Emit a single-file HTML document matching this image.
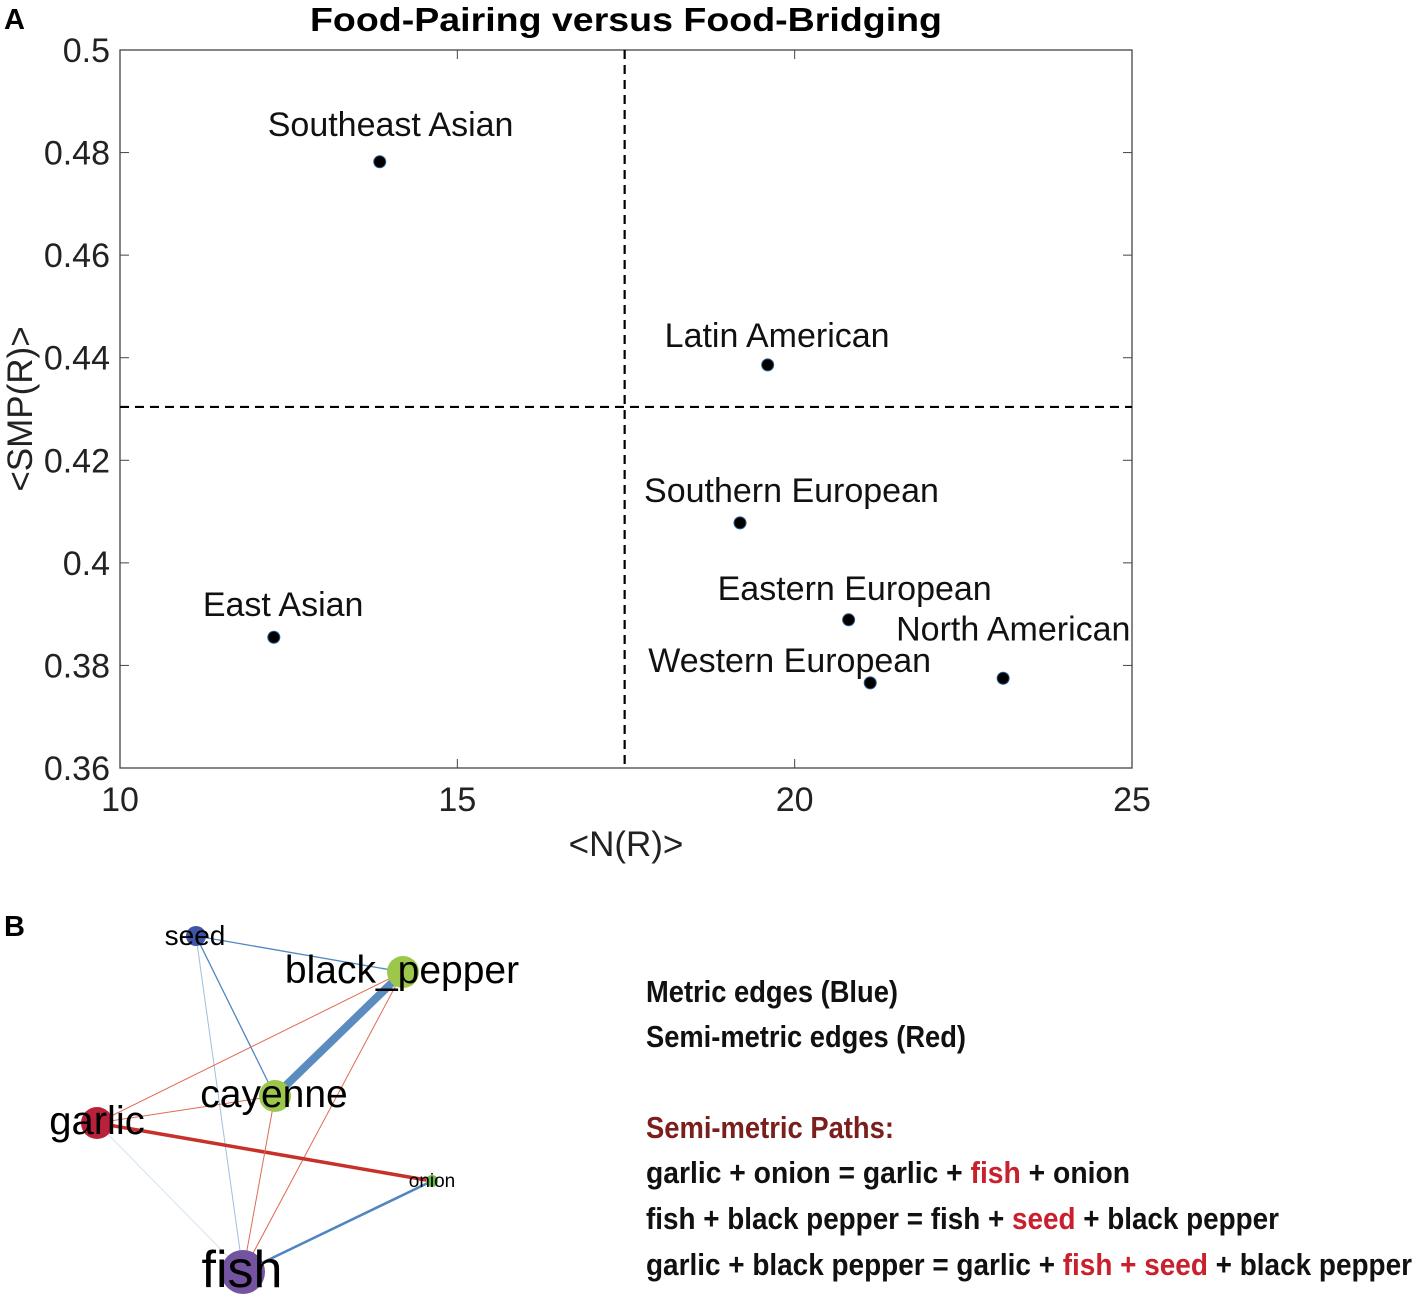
<!DOCTYPE html>
<html><head><meta charset="utf-8"><style>
body{margin:0;background:#fff;}
svg{display:block;font-family:"Liberation Sans",sans-serif;}
.nar{font-family:"Liberation Sans Narrow","Liberation Sans",sans-serif;font-weight:bold;}
</style></head><body>
<svg id="chart" width="1417" height="1303" viewBox="0 0 1417 1303">
<text x="4" y="29" font-size="29" font-weight="bold">A</text>
<text x="310" y="31" font-size="33" font-weight="bold" textLength="632" lengthAdjust="spacingAndGlyphs">Food-Pairing versus Food-Bridging</text>
<rect x="120" y="50" width="1012" height="718" fill="none" stroke="#444" stroke-width="1.3"/>
<g id="ticks"></g>
<line id="vline" stroke="#000" stroke-width="2.2" stroke-dasharray="9,6"/>
<line id="hline" stroke="#000" stroke-width="2.2" stroke-dasharray="9,6"/>
<g id="pts"></g>
<text x="626" y="856" font-size="35" text-anchor="middle" fill="#222">&lt;N(R)&gt;</text>
<text transform="translate(32,409) rotate(-90)" font-size="35" text-anchor="middle" fill="#222">&lt;SMP(R)&gt;</text>

<text x="4" y="936" font-size="29" font-weight="bold">B</text>
<g>
<line x1="196" y1="936" x2="403" y2="972" stroke="#4f86c0" stroke-width="1.3"/>
<line x1="196" y1="936" x2="275" y2="1096" stroke="#4f86c0" stroke-width="1.3"/>
<line x1="196" y1="936" x2="243" y2="1272" stroke="#9ec0e0" stroke-width="1"/>
<line x1="403" y1="972" x2="275" y2="1096" stroke="#5a8cc0" stroke-width="8"/>
<line x1="403" y1="972" x2="97" y2="1123" stroke="#e06a55" stroke-width="1"/>
<line x1="403" y1="972" x2="243" y2="1272" stroke="#e06a55" stroke-width="1"/>
<line x1="97" y1="1123" x2="275" y2="1096" stroke="#e06a55" stroke-width="1"/>
<line x1="97" y1="1123" x2="432" y2="1181" stroke="#c8302a" stroke-width="3.5"/>
<line x1="97" y1="1123" x2="243" y2="1272" stroke="#d5e3f0" stroke-width="1"/>
<line x1="275" y1="1096" x2="243" y2="1272" stroke="#e06a55" stroke-width="1"/>
<line x1="432" y1="1181" x2="243" y2="1272" stroke="#4f86c0" stroke-width="2.5"/>
</g>
<g>
<circle cx="196" cy="936" r="10" fill="#3f56a8"/>
<circle cx="403" cy="972" r="16" fill="#9cc74a"/>
<circle cx="275" cy="1096" r="16" fill="#9cc74a"/>
<circle cx="97" cy="1123" r="16" fill="#b8203c"/>
<circle cx="432" cy="1181" r="6" fill="#6cb84a"/>
<circle cx="243" cy="1272" r="22" fill="#7454a0"/>
</g>
<g fill="#000">
<text x="195" y="945" font-size="28" text-anchor="middle">seed</text>
<text x="402" y="983" font-size="39" text-anchor="middle">black_pepper</text>
<text x="274" y="1107" font-size="39" text-anchor="middle">cayenne</text>
<text x="97" y="1134" font-size="40" text-anchor="middle">garlic</text>
<text x="432" y="1187" font-size="19" text-anchor="middle">onion</text>
<text x="242" y="1287" font-size="52" text-anchor="middle">fish</text>
</g>
<g class="nar" font-size="31" fill="#111">
<text x="646" y="1002" textLength="252" lengthAdjust="spacingAndGlyphs">Metric edges (Blue)</text>
<text x="646" y="1047" textLength="320" lengthAdjust="spacingAndGlyphs">Semi-metric edges (Red)</text>
<text x="646" y="1138" fill="#7a1e1e" textLength="248" lengthAdjust="spacingAndGlyphs">Semi-metric Paths:</text>
<text x="646" y="1183" textLength="484" lengthAdjust="spacingAndGlyphs">garlic + onion = garlic + <tspan fill="#c8202c">fish</tspan> + onion</text>
<text x="646" y="1229" textLength="633" lengthAdjust="spacingAndGlyphs">fish + black pepper = fish + <tspan fill="#c8202c">seed</tspan> + black pepper</text>
<text x="646" y="1275" textLength="766" lengthAdjust="spacingAndGlyphs">garlic + black pepper = garlic + <tspan fill="#c8202c">fish + seed</tspan> + black pepper</text>
</g>
</svg>
<script>
const categories=["Southeast Asian","Latin American","Southern European","Eastern European","Western European","North American","East Asian"];
const nValues=[13.85,19.6,19.19,20.8,21.12,23.09,12.28];
const smpValues=[0.4782,0.4386,0.4078,0.3889,0.3766,0.3775,0.3855];
const xTicks=[10,15,20,25];
const yTicks=[0.36,0.38,0.4,0.42,0.44,0.46,0.48,0.5];
const yTickLabels=["0.36","0.38","0.4","0.42","0.44","0.46","0.48","0.5"];
const thresholdN=17.48, thresholdSMP=0.4304;
const labelOffsets=[[-112,-26],[-103,-18],[-96,-21],[-131,-20],[-222,-11],[-107,-38],[-71,-21]];
const NS="http://www.w3.org/2000/svg";
const X0=120,X1=1132,Y0=768,Y1=50;
const sx=v=>X0+(v-10)/(25-10)*(X1-X0);
const sy=v=>Y0-(v-0.36)/(0.5-0.36)*(Y0-Y1);
function mk(t,a,p){const e=document.createElementNS(NS,t);for(const k in a)e.setAttribute(k,a[k]);p.appendChild(e);return e;}
const tg=document.getElementById('ticks');
xTicks.forEach(v=>{const x=sx(v);
 mk('line',{x1:x,x2:x,y1:Y0,y2:Y0-9,stroke:'#444'},tg);
 mk('line',{x1:x,x2:x,y1:Y1,y2:Y1+9,stroke:'#444'},tg);
 const t=mk('text',{x:x,y:Y0+43,'font-size':34,'text-anchor':'middle',fill:'#222'},tg);t.textContent=v;
 
 });
yTicks.forEach((v,i)=>{const y=sy(v);
 mk('line',{x1:X0,x2:X0+9,y1:y,y2:y,stroke:'#444'},tg);
 mk('line',{x1:X1,x2:X1-9,y1:y,y2:y,stroke:'#444'},tg);
 const t=mk('text',{x:X0-10,y:y+12,'font-size':34,'text-anchor':'end',fill:'#222'},tg);t.textContent=yTickLabels[i];
 
 });
const vl=document.getElementById('vline');vl.setAttribute('x1',sx(thresholdN));vl.setAttribute('x2',sx(thresholdN));vl.setAttribute('y1',Y1);vl.setAttribute('y2',Y0);
const hl=document.getElementById('hline');hl.setAttribute('y1',sy(thresholdSMP));hl.setAttribute('y2',sy(thresholdSMP));hl.setAttribute('x1',X0);hl.setAttribute('x2',X1);
const pg=document.getElementById('pts');
categories.forEach((c,i)=>{const x=sx(nValues[i]),y=sy(smpValues[i]);
 const p=mk('circle',{cx:x,cy:y,r:6,fill:'#000',stroke:'#2a5a8a','stroke-width':1},pg);
 
 
 const t=mk('text',{x:x+labelOffsets[i][0],y:y+labelOffsets[i][1],'font-size':34,fill:'#111'},pg);t.textContent=c;
 
 });
</script>
</body></html>
